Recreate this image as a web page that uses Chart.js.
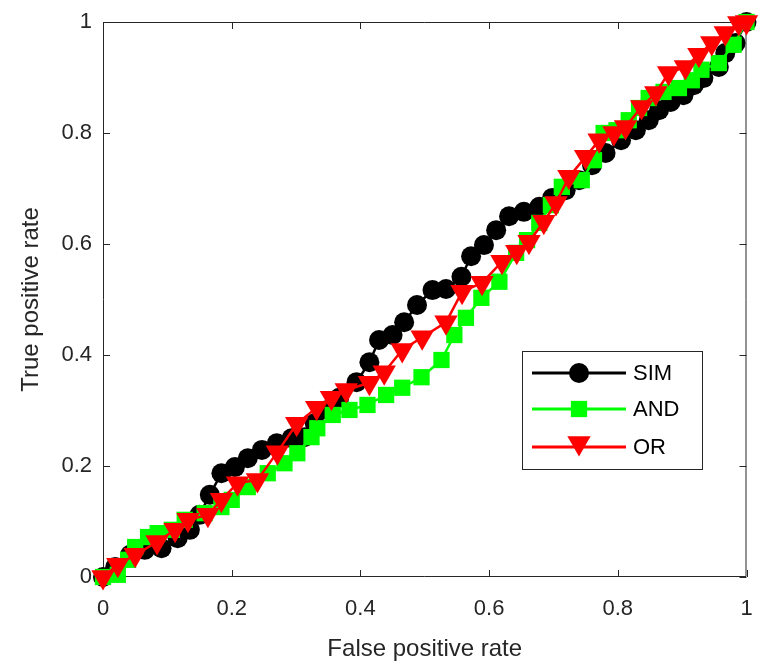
<!DOCTYPE html>
<html>
<head>
<meta charset="utf-8">
<script src="https://cdn.jsdelivr.net/npm/chart.js@4/dist/chart.umd.min.js"></script>
<style>
html,body{margin:0;padding:0;background:#fff;}
#wrap{width:760px;height:668px;}
</style>
</head>
<body>
<div id="wrap"><canvas id="c" width="760" height="668"></canvas></div>
<script>
// ---- data ----
const seriesNames = ['SIM', 'AND', 'OR'];
const xTickValues = [0, 0.2, 0.4, 0.6, 0.8, 1];
const yTickValues = [0, 0.2, 0.4, 0.6, 0.8, 1];
const xTickLabels = ['0', '0.2', '0.4', '0.6', '0.8', '1'];
const yTickLabels = ['0', '0.2', '0.4', '0.6', '0.8', '1'];

const simFPR = [0,0.019,0.042,0.065,0.091,0.116,0.135,0.150,0.166,0.184,0.205,0.225,0.247,0.270,0.293,0.313,0.329,0.349,0.367,0.394,0.414,0.429,0.450,0.468,0.488,0.512,0.533,0.557,0.572,0.592,0.611,0.631,0.654,0.678,0.698,0.719,0.740,0.760,0.781,0.805,0.828,0.848,0.864,0.882,0.902,0.918,0.933,0.957,0.967,0.983,1];
const simTPR = [0,0.018,0.040,0.049,0.052,0.070,0.085,0.112,0.148,0.187,0.198,0.214,0.229,0.241,0.250,0.252,0.277,0.301,0.323,0.351,0.387,0.427,0.436,0.459,0.490,0.517,0.519,0.541,0.578,0.598,0.625,0.650,0.658,0.667,0.683,0.697,0.715,0.742,0.764,0.787,0.805,0.823,0.841,0.856,0.868,0.886,0.899,0.919,0.944,0.962,1];

const andFPR = [0,0.023,0.039,0.050,0.070,0.085,0.107,0.127,0.158,0.184,0.200,0.225,0.256,0.282,0.302,0.324,0.333,0.357,0.383,0.411,0.440,0.465,0.495,0.526,0.546,0.564,0.588,0.616,0.642,0.659,0.678,0.696,0.713,0.744,0.763,0.778,0.798,0.817,0.833,0.848,0.871,0.895,0.915,0.930,0.957,0.980,1];
const andTPR = [0,0.004,0.031,0.054,0.072,0.079,0.085,0.103,0.115,0.126,0.139,0.162,0.187,0.205,0.223,0.252,0.268,0.292,0.301,0.310,0.328,0.341,0.360,0.391,0.436,0.467,0.503,0.532,0.584,0.607,0.638,0.670,0.703,0.715,0.751,0.800,0.805,0.823,0.845,0.863,0.874,0.881,0.895,0.914,0.926,0.959,1];

const orFPR = [0,0.023,0.050,0.084,0.112,0.132,0.163,0.184,0.209,0.240,0.271,0.301,0.332,0.355,0.378,0.414,0.437,0.465,0.496,0.533,0.558,0.589,0.620,0.643,0.662,0.685,0.704,0.724,0.750,0.771,0.794,0.812,0.837,0.859,0.879,0.905,0.926,0.946,0.967,0.988,1];
const orTPR = [0,0.022,0.040,0.063,0.085,0.103,0.112,0.139,0.169,0.175,0.225,0.276,0.305,0.323,0.337,0.350,0.369,0.409,0.432,0.459,0.514,0.530,0.568,0.586,0.604,0.640,0.674,0.721,0.757,0.787,0.800,0.811,0.847,0.872,0.908,0.919,0.941,0.962,0.980,0.998,1];

const xTitle = 'False positive rate';
const yTitle = 'True positive rate';

// ---- build ----
function pts(xs, ys){ return xs.map((x,i)=>({x:x, y:ys[i]})); }
const AXIS = '#262626';
const FONT = '"Liberation Sans", Arial, sans-serif';

const datasets = [
  {label: seriesNames[0], data: pts(simFPR, simTPR), borderColor:'#000000', backgroundColor:'#000000',
   pointStyle:'circle', pointRadius:10, pointBorderWidth:0, borderWidth:2.5, order:3, clip:false},
  {label: seriesNames[1], data: pts(andFPR, andTPR), borderColor:'#00ff00', backgroundColor:'#00ff00',
   pointStyle:'rect', pointRadius:11.5, pointBorderWidth:0, borderWidth:2.5, order:2, clip:false},
  {label: seriesNames[2], data: pts(orFPR, orTPR), borderColor:'#ff0000', backgroundColor:'#ff0000',
   pointStyle:'triangle', pointRotation:180, pointRadius:13.5, pointBorderWidth:0, borderWidth:2.5, order:1, clip:false}
];

const boxTicks = {
  id:'boxTicks',
  beforeDatasetsDraw(chart){
    const {ctx, chartArea:a, scales:{x, y}} = chart;
    ctx.save();
    ctx.strokeStyle = AXIS; ctx.lineWidth = 1;
    ctx.beginPath();
    ctx.rect(a.left+0.5, a.top+0.5, a.right-a.left-1, a.bottom-a.top-1);
    const L = 7;
    xTickValues.forEach(v=>{
      const px = Math.round(x.getPixelForValue(v))+0.5;
      ctx.moveTo(px, a.bottom); ctx.lineTo(px, a.bottom-L);
      ctx.moveTo(px, a.top); ctx.lineTo(px, a.top+L);
    });
    yTickValues.forEach(v=>{
      const py = Math.round(y.getPixelForValue(v))+0.5;
      ctx.moveTo(a.left, py); ctx.lineTo(a.left+L, py);
      ctx.moveTo(a.right, py); ctx.lineTo(a.right-L, py);
    });
    ctx.stroke();
    ctx.restore();
  }
};

const boxLegend = {
  id:'boxLegend',
  afterDraw(chart){
    const ctx = chart.ctx;
    const bx = 522, by = 351, bw = 180, bh = 118;
    ctx.save();
    ctx.fillStyle = '#ffffff';
    ctx.fillRect(bx, by, bw, bh);
    ctx.strokeStyle = AXIS; ctx.lineWidth = 1;
    ctx.strokeRect(bx+0.5, by+0.5, bw, bh);
    const rows = [373, 409, 447];
    chart.data.datasets.forEach((ds, i)=>{
      const yy = rows[i];
      ctx.strokeStyle = ds.borderColor; ctx.lineWidth = 3;
      ctx.beginPath(); ctx.moveTo(532, yy); ctx.lineTo(626, yy); ctx.stroke();
      ctx.fillStyle = ds.backgroundColor;
      const r = ds.pointRadius;
      Chart.helpers.drawPoint(ctx, {pointStyle: ds.pointStyle, rotation: ds.pointRotation || 0, radius: r, borderWidth: 0}, 579, i===2 ? yy-4 : yy);
      ctx.fillStyle = '#000000';
      ctx.font = '22px ' + FONT;
      ctx.textBaseline = 'middle';
      ctx.textAlign = 'left';
      ctx.fillText(ds.label, 633, yy+1);
    });
    ctx.restore();
  }
};

new Chart(document.getElementById('c'), {
  type:'line',
  data:{datasets},
  options:{
    responsive:false,
    animation:false,
    events:[],
    layout:{padding:{left:0, right:10, top:22, bottom:0}},
    plugins:{legend:{display:false}, tooltip:{enabled:false}},
    elements:{line:{tension:0}},
    scales:{
      x:{type:'linear', min:0, max:1,
        afterBuildTicks(s){ s.ticks = xTickValues.map(v=>({value:v})); },
        afterFit(s){ s.height = 91; s.paddingLeft = 0; s.paddingRight = 0; },
        grid:{display:false, drawTicks:false},
        border:{display:false},
        ticks:{color:AXIS, font:{family:FONT, size:22}, padding:19, maxRotation:0,
          callback:(v)=>xTickLabels[xTickValues.indexOf(v)]},
        title:{display:true, text:xTitle, color:AXIS, font:{family:FONT, size:24}, padding:{top:8, bottom:4}}
      },
      y:{type:'linear', min:0, max:1,
        afterBuildTicks(s){ s.ticks = yTickValues.map(v=>({value:v})); },
        afterFit(s){ s.width = 103; s.paddingTop = 0; s.paddingBottom = 0; },
        grid:{display:false, drawTicks:false},
        border:{display:false},
        ticks:{color:AXIS, font:{family:FONT, size:22}, padding:11,
          callback:(v)=>yTickLabels[yTickValues.indexOf(v)]},
        title:{display:true, text:yTitle, color:AXIS, font:{family:FONT, size:24}, padding:{top:17, bottom:0}}
      }
    }
  },
  plugins:[boxTicks, boxLegend]
});
</script>
</body>
</html>
